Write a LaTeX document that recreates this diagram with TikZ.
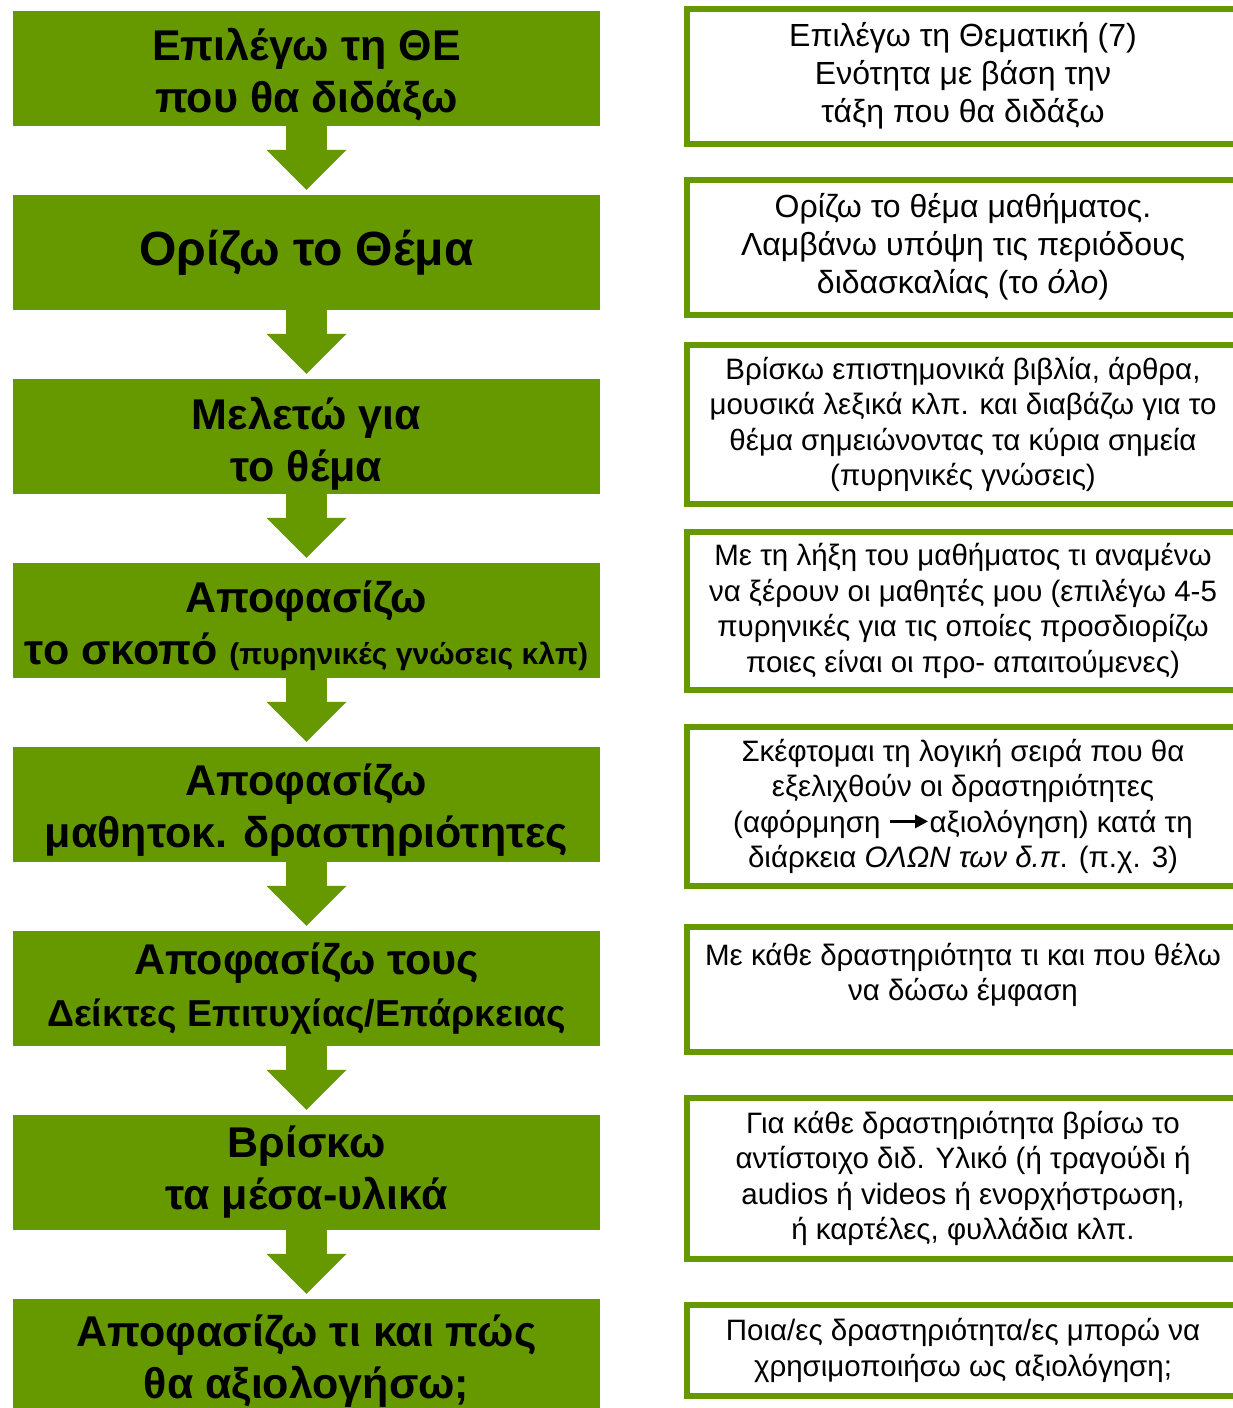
\documentclass[tikz,border=0pt]{standalone}
\usepackage{fontspec}
\setmainfont{Liberation Sans}
\usetikzlibrary{arrows.meta}
\definecolor{leafgreen}{RGB}{102,153,0}

\begin{document}
\begin{tikzpicture}[x=1pt,y=-1pt,
  stepbox/.style={fill=leafgreen,minimum width=587pt,minimum height=115pt,inner sep=0pt},
  steptext/.style={inner sep=0pt,align=center,font=\bfseries\fontsize{43}{52}\selectfont},
  notebox/.style={draw=leafgreen,line width=6pt,fill=white,minimum width=552pt,
    inner sep=0pt,align=center,font=\fontsize{29.5}{35.5}\selectfont},
  bignote/.style={font=\fontsize{32}{38}\selectfont},
  blockarrow/.style={leafgreen,line width=41pt,
    -{Triangle[width=80pt,length=40pt,line width=0pt]}}]
\useasboundingbox (0,0) rectangle (1232,1408);
%% steps on the left
\foreach \stepname/\y/\dy/\steptext in {
  s1/68.5/6/{Επιλέγω τη ΘΕ\\που θα διδάξω},
  s2/252.5/0/{\fontsize{48}{52}\selectfont Ορίζω το Θέμα},
  s3/436.5/7/{Μελετώ για\\το θέμα},
  s4/620.5/5/{Αποφασίζω\\το σκοπό {\fontsize{30}{52}\selectfont(πυρηνικές γνώσεις κλπ)}},
  s5/804.5/6/{Αποφασίζω\\μαθητοκ. δραστηριότητες},
  s6/988.5/0/{Αποφασίζω τους\\{\fontsize{37.5}{52}\selectfont Δείκτες Επιτυχίας/Επάρκειας}},
  s7/1172.5/0/{Βρίσκω\\τα μέσα-υλικά},
  s8/1356.5/5/{Αποφασίζω τι και πώς\\θα αξιολογήσω;}} {
  \node (\stepname) at (306.5,\y) [stepbox] {};
  \node (\stepname t) at ([yshift=-\dy pt]\stepname.center) [steptext] {\steptext};
}
%% notes on the right
\foreach \notename/\y/\h/\notetext in {
  n3/424.5/159/{Βρίσκω επιστημονικά βιβλία, άρθρα,\\μουσικά λεξικά κλπ. και διαβάζω για το\\θέμα σημειώνοντας τα κύρια σημεία\\(πυρηνικές γνώσεις)},
  n4/611/158/{Με τη λήξη του μαθήματος τι αναμένω\\να ξέρουν οι μαθητές μου (επιλέγω 4-5\\πυρηνικές για τις οποίες προσδιορίζω\\ποιες είναι οι προ- απαιτούμενες)},
  n5/806.5/159/{Σκέφτομαι τη λογική σειρά που θα\\εξελιχθούν οι δραστηριότητες\\(αφόρμηση \tikz[baseline=-0.7ex]\draw[-{Triangle[length=13pt,width=13pt]},line width=3pt] (0,0) -- (38pt,0);αξιολόγηση) κατά τη\\διάρκεια \textit{ΟΛΩΝ των δ.π}. (π.χ. 3)},
  n6/989.5/125/{Με κάθε δραστηριότητα τι και που θέλω\\να δώσω έμφαση\\ \mbox{}},
  n7/1178.5/161/{Για κάθε δραστηριότητα βρίσω το\\αντίστοιχο διδ. Υλικό (ή τραγούδι ή\\audios ή videos ή ενορχήστρωση,\\ή καρτέλες, φυλλάδια κλπ.},
  n8/1350.5/91/{Ποια/ες δραστηριότητα/ες μπορώ να\\χρησιμοποιήσω ως αξιολόγηση;}} {
  \node (\notename) at (963,\y) [notebox,minimum height=\h pt] {\notetext};
}
\node (n1) at (963,76) [notebox,bignote,minimum height=135pt]
  {Επιλέγω τη Θεματική (7)\\Ενότητα με βάση την\\τάξη που θα διδάξω};
\node (n2) at (963,247) [notebox,bignote,minimum height=135pt]
  {Ορίζω το θέμα μαθήματος.\\Λαμβάνω υπόψη τις περιόδους\\διδασκαλίας (το \textit{όλο})};
%% arrows
\foreach \a/\b in {s1/s2, s2/s3, s3/s4, s4/s5, s5/s6, s6/s7, s7/s8} {
  \draw[blockarrow] (\a.south) -- ([yshift=5pt]\b.north);
}
\end{tikzpicture}
\end{document}
